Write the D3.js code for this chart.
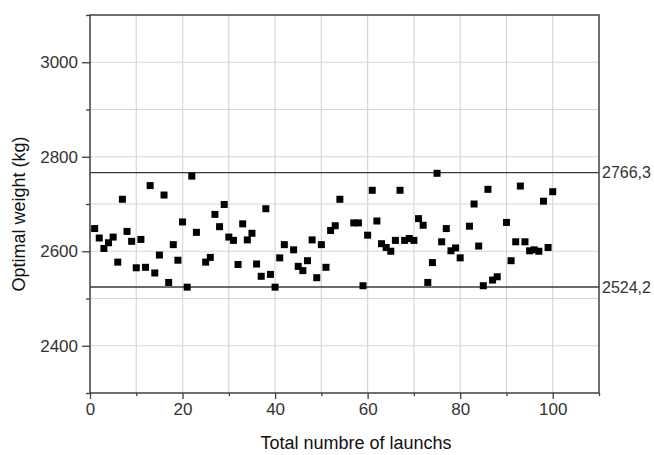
<!DOCTYPE html>
<html>
<head>
<meta charset="utf-8">
<script src="https://cdn.jsdelivr.net/npm/d3@7/dist/d3.min.js"></script>
<style>
  html, body { margin: 0; padding: 0; background: #ffffff; }
  svg { display: block; }
  text { font-family: Arial, "Liberation Sans", sans-serif; }
</style>
</head>
<body>
<svg id="chart" width="654" height="455"></svg>
<script>
// ---- data ----
const launches = [1,2,3,4,5,6,7,8,9,10,11,12,13,14,15,16,17,18,19,20,21,22,23,25,26,27,28,29,30,31,32,33,34,35,36,37,38,39,40,41,42,44,45,46,47,48,49,50,51,52,53,54,57,58,59,60,61,62,63,64,65,66,67,68,69,70,71,72,73,74,75,76,77,78,79,80,82,83,84,85,86,87,88,90,91,92,93,94,95,96,97,98,99,100];
const weights  = [2648,2628,2606,2618,2630,2577,2710,2642,2621,2565,2625,2566,2739,2554,2592,2719,2534,2614,2581,2662,2524,2759,2640,2577,2587,2678,2652,2699,2630,2623,2572,2658,2624,2638,2573,2547,2690,2551,2524,2586,2614,2603,2568,2559,2580,2624,2544,2614,2566,2644,2654,2710,2660,2660,2527,2634,2729,2664,2616,2608,2600,2623,2729,2623,2627,2623,2669,2655,2534,2576,2765,2620,2648,2601,2607,2586,2653,2700,2611,2527,2731,2539,2546,2661,2580,2620,2738,2620,2601,2603,2600,2706,2608,2726];
const refLines = [2766.3, 2524.2];
const refLabels = ["2766,3", "2524,2"];
const xMajorTicks = [0, 20, 40, 60, 80, 100];
const xMinorTicks = [10, 30, 50, 70, 90, 110];
const yMajorTicks = [2400, 2600, 2800, 3000];
const yMinorTicks = [2300, 2500, 2700, 2900, 3100];
const xTitle = "Total numbre of launchs";
const yTitle = "Optimal weight (kg)";

// ---- layout ----
const L = 90, R = 599, T = 15, B = 393;
const svg = d3.select("#chart");
const x = d3.scaleLinear().domain([0, 110]).range([L, R]);
const y = d3.scaleLinear().domain([2300, 3100]).range([B, T]);

// grid
const grid = svg.append("g");
grid.selectAll("line.gx").data(d3.range(10, 110, 10)).enter().append("line")
  .attr("x1", d => x(d)).attr("x2", d => x(d)).attr("y1", T).attr("y2", B)
  .attr("stroke", "#d6d6d6").attr("stroke-width", 1.2);
grid.selectAll("line.gy").data(d3.range(2400, 3100, 100)).enter().append("line")
  .attr("x1", L).attr("x2", R).attr("y1", d => y(d)).attr("y2", d => y(d))
  .attr("stroke", "#d6d6d6").attr("stroke-width", 1.2);

// reference lines
svg.selectAll("line.ref").data(refLines).enter().append("line")
  .attr("x1", L).attr("x2", R).attr("y1", d => y(d)).attr("y2", d => y(d))
  .attr("stroke", "#3a3a3a").attr("stroke-width", 1.4);
svg.selectAll("text.ref").data(refLines).enter().append("text")
  .attr("x", R + 3).attr("y", d => y(d)).attr("dy", "0.36em")
  .attr("font-size", 16).attr("fill", "#333")
  .text((d, i) => refLabels[i]);

// axes
const axisColor = "#404040";
const xAxisMajor = d3.axisBottom(x).tickValues(xMajorTicks).tickSize(6).tickPadding(4).tickFormat(d3.format("d"));
const xAxisMinor = d3.axisBottom(x).tickValues(xMinorTicks).tickSize(3).tickFormat("");
const yAxisMajor = d3.axisLeft(y).tickValues(yMajorTicks).tickSize(8).tickPadding(4).tickFormat(d3.format("d"));
const yAxisMinor = d3.axisLeft(y).tickValues(yMinorTicks).tickSize(4).tickFormat("");

function styleAxis(g) {
  g.select(".domain").remove();
  g.selectAll(".tick line").attr("stroke", axisColor).attr("stroke-width", 1.3);
  g.selectAll(".tick text").attr("fill", "#333").attr("font-size", 17)
    .attr("font-family", "Arial, 'Liberation Sans', sans-serif");
}
svg.append("g").attr("transform", `translate(0,${B})`).call(xAxisMajor).call(styleAxis);
svg.append("g").attr("transform", `translate(0,${B})`).call(xAxisMinor).call(styleAxis);
svg.append("g").attr("transform", `translate(${L},0)`).call(yAxisMajor).call(styleAxis);
svg.append("g").attr("transform", `translate(${L},0)`).call(yAxisMinor).call(styleAxis);

// frame
svg.append("rect").attr("x", L).attr("y", T).attr("width", R - L).attr("height", B - T)
  .attr("fill", "none").attr("stroke", axisColor).attr("stroke-width", 1.5);

// points
const s = 7;
svg.append("g").selectAll("rect").data(launches.map((d, i) => [d, weights[i]])).enter().append("rect")
  .attr("x", d => x(d[0]) - s / 2).attr("y", d => y(d[1]) - s / 2)
  .attr("width", s).attr("height", s).attr("fill", "#000");

// titles
svg.append("text").attr("x", 356).attr("y", 449).attr("text-anchor", "middle")
  .attr("font-size", 18).attr("fill", "#111").text(xTitle);
svg.append("text").attr("transform", "rotate(-90)").attr("x", -214).attr("y", 25)
  .attr("text-anchor", "middle").attr("font-size", 18).attr("fill", "#111").text(yTitle);
</script>
</body>
</html>
